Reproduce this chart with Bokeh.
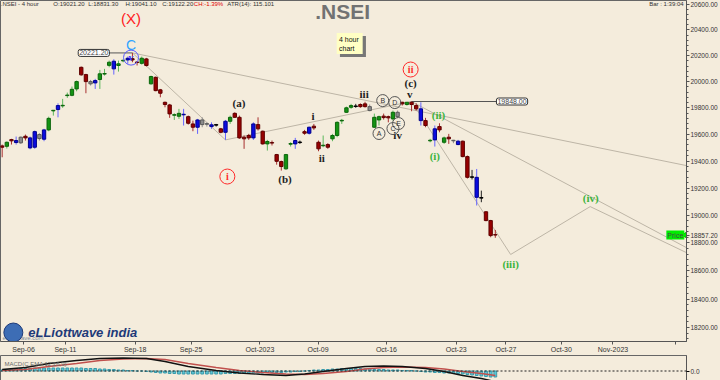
from bokeh.plotting import figure
from bokeh.layouts import column
from bokeh.models import ColumnDataSource, FixedTicker, PrintfTickFormatter, Label, Range1d, Span
from bokeh.embed import file_html
from bokeh.resources import INLINE
from bokeh.core.properties import value

# ---------------- data (4-hour bars, .NSEI) ----------------
opens = [19513, 19510, 19560, 19538, 19536, 19585, 19573, 19503, 19568, 19563,
         19633, 19777, 19787, 19815, 19893, 19895, 19944, 20110, 20054, 19983,
         19990, 20016, 20058, 20125, 20098, 20124, 20160, 20167, 20177, 20151,
         20141, 20175, 19983, 20033, 19937, 19842, 19822, 19744, 19736, 19747,
         19733, 19678, 19653, 19673, 19676, 19658, 19669, 19641, 19615, 19698,
         19758, 19728, 19578, 19591, 19573, 19673, 19623, 19528, 19538, 19448,
         19396, 19342, 19526, 19528, 19538, 19620, 19608, 19661, 19540, 19514,
         19523, 19566, 19591, 19701, 19766, 19804, 19810, 19825, 19830, 19779,
         19653, 19708, 19737, 19733, 19716, 19733, 19842, 19825, 19842, 19817,
         19792, 19703, 19551, 19558, 19658, 19540, 19578, 19551, 19548, 19548,
         19433, 19279, 19279, 19126, 19026, 18962, 18860]
highs = [19523, 19546, 19566, 19583, 19583, 19598, 19583, 19628, 19608, 19641,
         19733, 19784, 19834, 19868, 19916, 19962, 20008, 20116, 20060, 20013,
         20021, 20090, 20098, 20162, 20172, 20162, 20170, 20193, 20221.2, 20157,
         20193, 20183, 20046, 20039, 19944, 19847, 19830, 19758, 19792, 19792,
         19741, 19703, 19716, 19728, 19690, 19690, 19678, 19648, 19708, 19741,
         19766, 19741, 19591, 19603, 19690, 19728, 19628, 19558, 19553, 19453,
         19403, 19453, 19540, 19573, 19553, 19633, 19658, 19678, 19553, 19591,
         19533, 19603, 19698, 19716, 19809, 19830, 19830, 19834, 19846, 19825,
         19756, 19741, 19756, 19741, 19779, 19779, 19846, 19845, 19848, 19834,
         19842, 19724, 19566, 19666, 19683, 19583, 19603, 19558, 19558, 19553,
         19441, 19334, 19341, 19181, 19030, 18967, 18894]
lows = [19428, 19493, 19523, 19523, 19528, 19553, 19488, 19491, 19553, 19548,
        19623, 19741, 19728, 19800, 19876, 19888, 19926, 20046, 19911, 19970,
        19944, 19944, 20046, 20110, 20054, 20077, 20149, 20137, 20149, 20124,
        20131, 20116, 19977, 19926, 19880, 19804, 19724, 19708, 19716, 19666,
        19673, 19623, 19603, 19653, 19658, 19641, 19658, 19608, 19558, 19678,
        19724, 19566, 19491, 19558, 19558, 19628, 19523, 19478, 19516, 19373,
        19329, 19335, 19508, 19491, 19528, 19596, 19598, 19633, 19473, 19503,
        19491, 19548, 19578, 19678, 19761, 19792, 19800, 19800, 19802, 19774,
        19648, 19666, 19711, 19690, 19703, 19724, 19817, 19817, 19774, 19779,
        19666, 19653, 19540, 19508, 19615, 19528, 19528, 19533, 19518, 19428,
        19270, 19263, 19072, 19096, 18957, 18841, 18837]
closes = [19503, 19540, 19551, 19553, 19578, 19573, 19498, 19620, 19598, 19633,
          19720, 19781, 19817, 19819, 19897, 19941, 20000, 20052, 20000, 20000,
          20008, 20060, 20062, 20149, 20157, 20137, 20164, 20180, 20167, 20147,
          20180, 20124, 20039, 19931, 19911, 19825, 19754, 19748, 19758, 19751,
          19683, 19653, 19708, 19708, 19680, 19671, 19673, 19615, 19698, 19728,
          19728, 19573, 19566, 19573, 19678, 19641, 19528, 19546, 19534, 19398,
          19359, 19448, 19530, 19553, 19542, 19608, 19653, 19648, 19491, 19518,
          19503, 19591, 19690, 19705, 19800, 19817, 19814, 19809, 19809, 19809,
          19728, 19733, 19726, 19724, 19766, 19766, 19830, 19842, 19825, 19792,
          19703, 19666, 19555, 19641, 19633, 19573, 19566, 19555, 19523, 19433,
          19279, 19283, 19132, 19130, 18962, 18853, 18857.2]
bar_colors = ["red", "green", "red", "blue", "gray", "red", "blue", "blue", "gray", "blue",
              "green", "green", "blue", "green", "green", "green", "green", "red", "red", "gray",
              "blue", "green", "green", "green", "blue", "green", "green", "blue", "red", "red",
              "green", "red", "green", "red", "red", "red", "red", "green", "green", "blue",
              "red", "red", "blue", "gray", "gray", "blue", "black", "red", "blue", "green",
              "red", "red", "red", "red", "blue", "red", "red", "green", "red", "red",
              "red", "green", "green", "blue", "black", "red", "blue", "red", "red", "green",
              "red", "green", "green", "green", "green", "green", "black", "red", "red", "gray",
              "green", "green", "red", "red", "green", "gray", "red", "green", "red", "red",
              "blue", "red", "green", "blue", "red", "green", "red", "gray", "blue", "red",
              "red", "black", "blue", "black", "red", "red", "red"]

date_ticks = [4.6, 13.6, 28.6, 40.6, 55.4, 67.9, 82.6, 97.6, 108.3, 120.2, 131.3, 144.7]
date_labels = ["Sep-06", "Sep-11", "Sep-18", "Sep-25", "Oct-2023", "Oct-09", "Oct-16",
               "Oct-23", "Oct-27", "Oct-30", "Nov-2023", ""]
price_ticks = [18200, 18400, 18600, 18800, 19000, 19200, 19400, 19600, 19800, 20000, 20200, 20400, 20600]
last_close = 18857.2

header_parts = [".NSEI - 4 hour", "O:19021.20", "L:18831.30", "H:19041.10", "C:19122.20",
                "CH:-1.39%", "ATR(14): 115.101"]
header_x = [-0.3, 11.0, 18.5, 26.5, 34.4, 41.2, 48.4]
header_colors = ["#333333", "#333333", "#333333", "#333333", "#333333", "#e00000", "#333333"]

# wave count drawing (bar index, price)
wave_path_x = [28, 48, 88, 109.3, 126.4, 147.1]
wave_path_y = [20221.2, 19558, 19848, 18717, 19064, 18730]
upper_line_x = [28, 147.1]
upper_line_y = [20221.2, 19366]
channel_line_x = [88, 147.1]
channel_line_y = [19848, 18766]

black_labels = ["(a)", "(b)", "(c)", "i", "ii", "iii", "iv", "v"]
black_x = [50.9, 60.8, 87.8, 66.8, 68.7, 77.8, 85.0, 87.6]
black_y = [19840, 19270, 19993, 19741, 19426, 19909, 19598, 19909]
green_labels = ["(i)", "(ii)", "(iii)", "(iv)"]
green_x = [93.0, 93.8, 109.3, 126.5]
green_y = [19441, 19749, 18646, 19130]
red_circ_labels = ["i", "ii"]
red_circ_x = [48.4, 87.8]
red_circ_y = [19285, 20093]
tri_labels = ["A", "B", "C", "D", "E"]
tri_x = [81.0, 81.8, 84.0, 84.4, 85.2]
tri_y = [19606, 19855, 19643, 19840, 19681]

macd_x = [0, 5, 10, 16, 21, 26, 31, 35, 40, 46, 51, 56, 61, 65, 69, 74, 78, 82, 86, 91, 95, 99, 103, 106]
macd_vals = [15, 35, 75, 105, 125, 130, 125, 95, 45, 5, -20, -35, -45, -30, -5, 25, 45, 50, 45, 25, -5, -45, -75, -105]
signal_vals = [5, 15, 45, 75, 105, 120, 125, 115, 75, 35, 5, -15, -30, -35, -25, -5, 20, 35, 40, 35, 20, -5, -25, -45]
hist_vals = [10, 15, 20, 20, 25, 25, 25, 30, 30, 30,
             30, 30, 30, 30, 30, 30, 30, 30, 25, 25,
             25, 20, 20, 15, 15, 10, 10, 5, 5, 0,
             0, -5, -10, -15, -20, -20, -25, -25, -30, -30,
             -30, -30, -30, -30, -30, -30, -30, -30, -25, -25,
             -25, -25, -20, -20, -20, -20, -20, -15, -15, -15,
             -15, -10, -10, -5, -5, 0, 5, 10, 10, 15,
             15, 20, 20, 25, 25, 25, 25, 25, 20, 20,
             15, 15, 15, 10, 10, 10, 5, 5, 5, 0,
             -5, -10, -10, -15, -15, -20, -20, -25, -25, -30,
             -35, -40, -45, -50, -55, -60, -60]

# ---------------- styling ----------------
BG = "#f4ecdc"
BODY = {"green": "#139313", "red": "#980000", "blue": "#0b0be0", "gray": "#8c8c8c", "black": "#111111"}
EDGE = {"green": "#0b650b", "red": "#5e0000", "blue": "#00008c", "gray": "#5a5a5a", "black": "#000000"}
WICK = {"green": "#5cb85c", "red": "#a83030", "blue": "#6464ff", "gray": "#8c8c8c", "black": "#222222"}
WAVE = "#bdb5a6"
SANS = "Liberation Sans"
SERIF = "Liberation Serif"

idx = list(range(len(opens)))
src = ColumnDataSource(dict(
    x=idx, o=opens, h=highs, l=lows, c=closes,
    top=[max(a, b) for a, b in zip(opens, closes)],
    bot=[min(a, b) for a, b in zip(opens, closes)],
    fill=[BODY[k] for k in bar_colors],
    edge=[EDGE[k] for k in bar_colors],
    wick=[WICK[k] for k in bar_colors],
))

p = figure(frame_width=686, frame_height=341, x_range=Range1d(-0.36, 147.1),
           y_range=Range1d(18102.6, 20632), y_axis_type="log", y_axis_location="right",
           output_backend="svg", toolbar_location=None, min_border=0,
           background_fill_color=BG, border_fill_color=BG, outline_line_color="#666666")
p.xgrid.visible = False
p.ygrid.visible = False

ya = p.yaxis[0]
ya.ticker = FixedTicker(ticks=price_ticks + [last_close],
                        minor_ticks=[v for v in range(18120, 20640, 40)])
ya.formatter = PrintfTickFormatter(format="%.2f")
ya.major_label_text_font = SANS
ya.major_label_text_font_size = "6.5px"
ya.major_label_text_color = "#333333"
ya.major_label_standoff = 1
ya.major_tick_in = 0
ya.major_tick_out = 3
ya.minor_tick_in = 0
ya.minor_tick_out = 2
ya.axis_line_color = "#555555"
ya.major_tick_line_color = "#555555"
ya.minor_tick_line_color = "#555555"

xa = p.xaxis[0]
xa.ticker = FixedTicker(ticks=date_ticks)
xa.major_label_overrides = {t: s for t, s in zip(date_ticks, date_labels)}
xa.major_label_text_font = SANS
xa.major_label_text_font_size = "7px"
xa.major_label_text_color = "#333333"
xa.major_label_standoff = 1
xa.major_tick_in = 0
xa.major_tick_out = 3
xa.minor_tick_out = 0
xa.minor_tick_in = 0
xa.axis_line_color = "#555555"
xa.major_tick_line_color = "#555555"

# wave lines
p.line(upper_line_x, upper_line_y, line_color=WAVE, line_width=1)
p.line(channel_line_x, channel_line_y, line_color=WAVE, line_width=1)
p.line(wave_path_x, wave_path_y, line_color=WAVE, line_width=1)

# value box connectors
p.line([22.8, 28], [20221.2, 20221.2], line_color="#555555", line_width=1)
p.line([88, 106.3], [19848, 19848], line_color="#555555", line_width=1)

# candles
p.segment(x0="x", y0="l", x1="x", y1="h", line_color="wick", line_width=1, source=src)
p.vbar(x="x", top="top", bottom="bot", width=0.72, fill_color="fill", line_color="edge",
       line_width=1, source=src)

# wave labels
p.text(black_x, black_y, text=black_labels, text_font=value(SERIF), text_font_style="bold",
       text_font_size="11px", text_color="#222222", text_align="center", text_baseline="middle")
p.text(green_x, green_y, text=green_labels, text_font=value(SERIF), text_font_style="bold",
       text_font_size="11px", text_color="#3cb43c", text_align="center", text_baseline="middle")
p.scatter(red_circ_x, red_circ_y, marker="circle", size=15, fill_color=None,
          line_color="#ff2a2a", line_width=1)
p.text(red_circ_x, red_circ_y, text=red_circ_labels, text_font=value(SERIF), text_font_style="bold",
       text_font_size="10px", text_color="#ff2a2a", text_align="center", text_baseline="middle")
p.scatter(tri_x, tri_y, marker="circle", size=12, fill_color=None, line_color="#555555", line_width=1)
p.text(tri_x, tri_y, text=tri_labels, text_font=value(SANS), text_font_size="7px",
       text_color="#333333", text_align="center", text_baseline="middle")

# (X) C v at the top
p.text([27.7], [20489], text=["(X)"], text_font=value(SANS), text_font_size="15px",
       text_color="#ff2020", text_align="center", text_baseline="middle")
p.text([27.7], [20286], text=["C"], text_font=value(SANS), text_font_size="14px",
       text_color="#2fa4ff", text_align="center", text_baseline="middle")
p.scatter([27.7], [20185], marker="circle", size=15, fill_color=None, line_color="#5a5aff", line_width=1)
p.text([27.7], [20185], text=["v"], text_font=value(SERIF), text_font_style="bold",
       text_font_size="10px", text_color="#3c3cff", text_align="center", text_baseline="middle")

# boxes with values
p.add_layout(Label(x=19.7, y=20221.2, text="20221.20", text_font=SANS, text_font_size="7px",
                   text_align="center", text_baseline="middle", background_fill_color="white",
                   border_line_color="#333333", padding=1, border_radius=2))
p.add_layout(Label(x=109.6, y=19848, text="19848.00", text_font=SANS, text_font_size="7px",
                   text_align="center", text_baseline="middle", background_fill_color="white",
                   border_line_color="#333333", padding=1, border_radius=2))

# sticky note
p.rect([75.4], [20271], width=26, height=21, width_units="screen", height_units="screen",
       fill_color="#777777", line_color=None)
p.rect([74.7], [20294], width=26, height=21, width_units="screen", height_units="screen",
       fill_color="#ffffc4", line_color=None)
p.text([72.4, 72.4], [20325, 20258], text=["4 hour", "chart"], text_font=value(SANS),
       text_font_size="7px", text_color="#111111", text_align="left", text_baseline="middle")

# title and header
p.text([73.2], [20544], text=[".NSEI"], text_font=value(SANS), text_font_style="bold",
       text_font_size="21px", text_color="#727272", text_align="center", text_baseline="middle")
HEAD_Y = 20603
for hx, ht, hc in zip(header_x, header_parts, header_colors):
    p.add_layout(Label(x=hx, y=HEAD_Y, text=ht, text_font=SANS, text_font_size="6px",
                       text_color=hc, text_baseline="middle"))
p.add_layout(Label(x=139.1, y=HEAD_Y, text="Bar : 1:39:04", text_font=SANS, text_font_size="6px",
                   text_color="#333333", text_baseline="middle"))

# price marker
p.add_layout(Label(x=144.7, y=last_close, text="Price", text_font=SANS, text_font_size="7px",
                   text_align="center", text_baseline="middle", background_fill_color="#00ee00",
                   padding=1))
p.scatter([146.8], [last_close], marker="triangle", angle=1.5708, size=6,
          fill_color="#00ee00", line_color="#00aa00")

# logo
p.text([8.9], [18130], text=["elliottwave.com"], text_font=value(SANS), text_font_size="6px",
       text_color="#7d8b99", text_align="right", text_baseline="middle")
p.scatter([2.4], [18165], marker="circle", size=19, fill_color="#3d6db5", line_color="#1e3a78")
p.text([5.6], [18168], text=["eLLiottwave india"], text_font=value(SANS), text_font_style="bold italic",
       text_font_size="13px", text_color="#1e3a78", text_align="left", text_baseline="middle")

# ---------------- MACD panel ----------------
m = figure(frame_width=686, frame_height=26, x_range=p.x_range, y_range=Range1d(-105, 155),
           y_axis_location="right", x_axis_location=None,
           output_backend="svg", toolbar_location=None, min_border=0,
           background_fill_color=BG, border_fill_color=BG, outline_line_color="#666666")
m.xgrid.visible = False
m.ygrid.visible = False
my = m.yaxis[0]
my.ticker = FixedTicker(ticks=[0])
my.formatter = PrintfTickFormatter(format="%.1f")
my.major_label_text_font = SANS
my.major_label_text_font_size = "6.5px"
my.major_label_text_color = "#333333"
my.major_label_standoff = 1
my.major_tick_in = 0
my.major_tick_out = 3
my.minor_tick_out = 0
my.axis_line_color = "#555555"

m.vbar(x=idx, top=hist_vals, bottom=0, width=0.6, fill_color="#5cc6d6", line_color="#3a9aaa")
m.add_layout(Span(location=0, dimension="width", line_color="#222222", line_dash="2 2", line_width=1))
m.line(macd_x, signal_vals, line_color="#c0504d", line_width=1.3)
m.line(macd_x, macd_vals, line_color="#111111", line_width=1.3)
m.add_layout(Label(x=0.5, y=70, text="MACD(C,EMA 12,26,9)", text_font=SANS, text_font_size="6px",
                   text_color="#6a6a6a", text_baseline="middle"))

layout = column(p, m, spacing=0, styles={"background-color": BG})
open("out.html", "w").write(file_html(layout, INLINE))
